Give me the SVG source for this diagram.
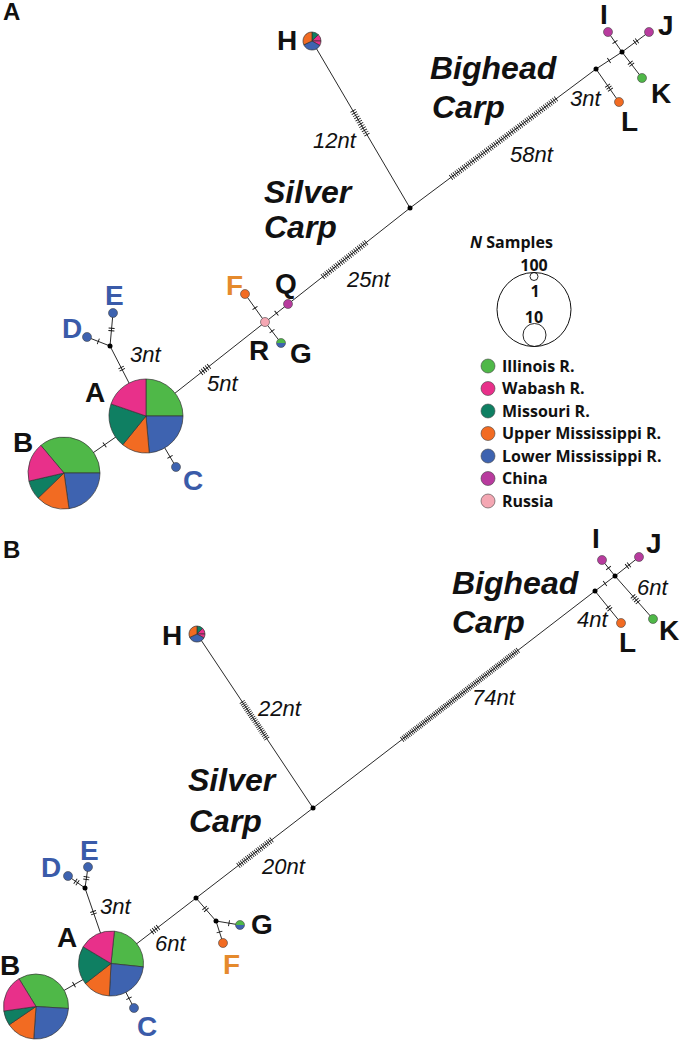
<svg xmlns="http://www.w3.org/2000/svg" width="682" height="1044" viewBox="0 0 682 1044">
<style>
.e{stroke:#111;stroke-width:0.9;fill:none}
.tk{stroke:#111;stroke-width:6;fill:none;stroke-dasharray:0.9 1.6}
.nd{stroke:#444;stroke-width:0.6}
.pie path{stroke:#333;stroke-width:0.7}
.jn{fill:#000}
.lb{font-family:"Liberation Sans",Arial,sans-serif;font-weight:700;font-size:28px;fill:#111}
.bl{fill:#3a5ba9}
.or{fill:#e58a2c}
.nt{font-family:"Liberation Sans",Arial,sans-serif;font-style:italic;font-size:22px;fill:#111}
.sp{font-family:"Liberation Sans",Arial,sans-serif;font-style:italic;font-weight:700;font-size:32px;fill:#111}
.pl{font-family:"Liberation Sans",Arial,sans-serif;font-weight:700;font-size:24px;fill:#111}
.lg{font-family:"Open Sans","Liberation Sans",sans-serif;font-weight:700;font-size:16px;fill:#111}
.lh{font-family:"Open Sans","Liberation Sans",sans-serif;font-weight:700;font-size:16px;fill:#111}
.gr{fill:#4fb848}.pk{fill:#e8308a}.tl{fill:#0f7f62}.og{fill:#f26b22}.bu{fill:#3e63b0}.cn{fill:#b83b9e}.ru{fill:#f4a7b3}
</style>
<rect width="682" height="1044" fill="#fff"/>
<text class="pl" x="3" y="20">A</text>
<text class="pl" x="3" y="558">B</text>

<g id="connectors">
<!-- panel A -->
<line class="e" x1="146" y1="416" x2="64" y2="473"/>
<line class="e" x1="146" y1="416" x2="176" y2="467"/>
<line class="e" x1="146" y1="416" x2="110" y2="346"/>
<line class="e" x1="110" y1="346" x2="87" y2="337"/>
<line class="e" x1="110" y1="346" x2="113" y2="313"/>
<line class="e" x1="146" y1="416" x2="410" y2="208"/>
<line class="e" x1="265" y1="322" x2="245" y2="294"/>
<line class="e" x1="265" y1="322" x2="281" y2="343"/>
<line class="e" x1="312" y1="41" x2="410" y2="208"/>
<line class="e" x1="410" y1="208" x2="596" y2="69"/>
<line class="e" x1="596" y1="69" x2="619" y2="102"/>
<line class="e" x1="596" y1="69" x2="622" y2="52"/>
<line class="e" x1="622" y1="52" x2="608" y2="32"/>
<line class="e" x1="622" y1="52" x2="649" y2="32"/>
<line class="e" x1="622" y1="52" x2="642" y2="78"/>
<!-- ticks A -->
<line class="tk" x1="104.97" y1="444.64" x2="104.23" y2="445.16"/>
<line class="tk" x1="169.77" y1="456.41" x2="170.23" y2="457.19"/>
<line class="tk" x1="122.48" y1="370.21" x2="120.92" y2="367.19"/>
<line class="tk" x1="98.72" y1="341.56" x2="97.88" y2="341.24"/>
<line class="tk" x1="111.35" y1="331.19" x2="111.65" y2="327.81"/>
<line class="tk" x1="200.72" y1="372.87" x2="209.28" y2="366.13"/>
<line class="tk" x1="255.26" y1="308.37" x2="254.74" y2="307.63"/>
<line class="tk" x1="271.73" y1="330.84" x2="272.27" y2="331.56"/>
<line class="tk" x1="276.15" y1="313.48" x2="276.85" y2="312.92"/>
<line class="tk" style="stroke-dasharray:0.8 1.5" x1="322.5" y1="276.93" x2="366.5" y2="242.27"/>
<line class="tk" style="stroke-dasharray:0.8 1.7" x1="352.84" y1="110.6" x2="367.16" y2="135"/>
<line class="tk" style="stroke-dasharray:0.8 1.5" x1="450.67" y1="177.61" x2="556.33" y2="98.65"/>
<line class="tk" x1="607.31" y1="85.23" x2="610.69" y2="90.07"/>
<line class="tk" x1="608.62" y1="60.75" x2="609.38" y2="60.25"/>
<line class="tk" x1="615.26" y1="42.37" x2="614.74" y2="41.63"/>
<line class="tk" x1="634.63" y1="42.61" x2="637.37" y2="40.59"/>
<line class="tk" x1="629.96" y1="62.35" x2="632.04" y2="65.05"/>
<!-- panel B -->
<line class="e" x1="111" y1="963.5" x2="36" y2="1006.5"/>
<line class="e" x1="111" y1="963.5" x2="134" y2="1008"/>
<line class="e" x1="111" y1="963.5" x2="85" y2="888"/>
<line class="e" x1="85" y1="888" x2="68" y2="876"/>
<line class="e" x1="85" y1="888" x2="88" y2="867"/>
<line class="e" x1="111" y1="963.5" x2="595" y2="591"/>
<line class="e" x1="196" y1="898" x2="216" y2="921"/>
<line class="e" x1="216" y1="921" x2="240" y2="925"/>
<line class="e" x1="216" y1="921" x2="223" y2="943"/>
<line class="e" x1="197" y1="634" x2="313" y2="808"/>
<line class="e" x1="595" y1="591" x2="615" y2="576"/>
<line class="e" x1="595" y1="591" x2="621" y2="623"/>
<line class="e" x1="615" y1="576" x2="602" y2="560"/>
<line class="e" x1="615" y1="576" x2="639" y2="557"/>
<line class="e" x1="615" y1="576" x2="653" y2="619"/>
<!-- ticks B -->
<line class="tk" x1="74.39" y1="984.48" x2="73.61" y2="984.92"/>
<line class="tk" x1="128.79" y1="997.9" x2="129.21" y2="998.7"/>
<line class="tk" x1="94.05" y1="914.31" x2="92.95" y2="911.09"/>
<line class="tk" x1="77.89" y1="882.98" x2="75.11" y2="881.02"/>
<line class="tk" x1="86.16" y1="879.88" x2="86.64" y2="876.52"/>
<line class="tk" x1="151.67" y1="932.16" x2="158.33" y2="927.04"/>
<line class="tk" x1="204.38" y1="907.62" x2="206.62" y2="910.18"/>
<line class="tk" x1="228.56" y1="923.13" x2="229.44" y2="923.27"/>
<line class="tk" x1="219.36" y1="931.57" x2="219.64" y2="932.43"/>
<line class="tk" style="stroke-dasharray:0.8 1.4" x1="238.12" y1="865.69" x2="271.88" y2="839.71"/>
<line class="tk" style="stroke-dasharray:0.8 1.3" x1="242.05" y1="701.57" x2="266.95" y2="738.93"/>
<line class="tk" style="stroke-dasharray:0.8 1.2" x1="401.83" y1="739.67" x2="518.17" y2="650.13"/>
<line class="tk" x1="607.93" y1="606.88" x2="610.07" y2="609.52"/>
<line class="tk" x1="604.64" y1="583.77" x2="605.36" y2="583.23"/>
<line class="tk" x1="608.78" y1="568.35" x2="608.22" y2="567.65"/>
<line class="tk" x1="626.67" y1="566.76" x2="629.33" y2="564.64"/>
<line class="tk" x1="632.72" y1="596.05" x2="638.28" y2="602.35"/>
</g>

<!-- ===== Panel A nodes ===== -->
<g id="a-A" class="pie">
<path class="gr" d="M146,416 L146,379 A37,37 0 0 1 183,416 Z"/>
<path class="bu" d="M146,416 L183,416 A37,37 0 0 1 149.23,452.86 Z"/>
<path class="og" d="M146,416 L149.23,452.86 A37,37 0 0 1 122.72,444.75 Z"/>
<path class="tl" d="M146,416 L122.72,444.75 A37,37 0 0 1 111.02,403.95 Z"/>
<path class="pk" d="M146,416 L111.02,403.95 A37,37 0 0 1 146,379 Z"/>
<text class="lb" x="85" y="402">A</text>
</g>
<g id="a-B" class="pie">
<path class="gr" d="M64,473 L40.86,445.42 A36,36 0 0 1 100,473 Z"/>
<path class="bu" d="M64,473 L100,473 A36,36 0 0 1 69.01,508.65 Z"/>
<path class="og" d="M64,473 L69.01,508.65 A36,36 0 0 1 38.1,498.01 Z"/>
<path class="tl" d="M64,473 L38.1,498.01 A36,36 0 0 1 28.92,481.1 Z"/>
<path class="pk" d="M64,473 L28.92,481.1 A36,36 0 0 1 40.86,445.42 Z"/>
<text class="lb" x="13" y="452">B</text>
</g>
<g id="a-C"><circle class="nd bu" cx="176" cy="467" r="4.5"/><text class="lb bl" x="183" y="490">C</text></g>
<g id="a-D"><circle class="nd bu" cx="87" cy="337" r="4.5"/><text class="lb bl" x="62" y="338">D</text></g>
<g id="a-E"><circle class="nd bu" cx="113" cy="313" r="4.5"/><text class="lb bl" x="105" y="305">E</text></g>
<g id="a-jde"><circle class="jn" cx="110" cy="346" r="2.5"/></g>
<g id="a-R"><circle class="nd ru" cx="265" cy="322" r="4.5"/><text class="lb" x="249" y="360">R</text></g>
<g id="a-F"><circle class="nd og" cx="245" cy="294" r="4.5"/><text class="lb or" x="226" y="295">F</text></g>
<g id="a-Q"><circle class="nd cn" cx="288" cy="304" r="4.5"/><text class="lb" x="275" y="293">Q</text></g>
<g id="a-G"><path class="gr" d="M276.5,343 A4.5,4.5 0 0 1 285.5,343 Z"/><path class="bu" d="M285.5,343 A4.5,4.5 0 0 1 276.5,343 Z"/><circle cx="281" cy="343" r="4.5" fill="none" stroke="#444" stroke-width="0.6"/><text class="lb" x="290" y="363">G</text></g>
<g id="a-H" class="pie">
<path class="tl" d="M312,41 L312,32 A9,9 0 0 1 318.36,34.64 Z"/>
<path class="pk" d="M312,41 L318.36,34.64 A9,9 0 0 1 321,41 Z"/>
<path class="pk" d="M312,41 L321,41 A9,9 0 0 1 319.79,45.5 Z"/>
<path class="bu" d="M312,41 L319.79,45.5 A9,9 0 0 1 303.84,44.8 Z"/>
<path class="og" d="M312,41 L303.84,44.8 A9,9 0 0 1 312,32 Z"/>
<text class="lb" x="277" y="50">H</text>
</g>
<g id="a-j1"><circle class="jn" cx="410" cy="208" r="2.5"/></g>
<g id="a-j2"><circle class="jn" cx="596" cy="69" r="2.5"/></g>
<g id="a-j3"><circle class="jn" cx="622" cy="52" r="2.5"/></g>
<g id="a-I"><circle class="nd cn" cx="608" cy="32" r="4.5"/><text class="lb" x="600" y="24">I</text></g>
<g id="a-J"><circle class="nd cn" cx="649" cy="32" r="4.5"/><text class="lb" x="658" y="35">J</text></g>
<g id="a-K"><circle class="nd gr" cx="642" cy="78" r="4.5"/><text class="lb" x="651" y="103">K</text></g>
<g id="a-L"><circle class="nd og" cx="619" cy="102" r="4.5"/><text class="lb" x="621" y="131">L</text></g>
<g id="a-labels">
<text class="nt" x="130" y="362">3nt</text>
<text class="nt" x="207" y="391">5nt</text>
<text class="nt" x="347" y="287">25nt</text>
<text class="nt" x="313" y="148">12nt</text>
<text class="nt" x="510" y="162">58nt</text>
<text class="nt" x="570" y="106">3nt</text>
<text class="sp" x="264" y="203">Silver</text>
<text class="sp" x="264" y="238">Carp</text>
<text class="sp" x="430" y="79">Bighead</text>
<text class="sp" x="432" y="118">Carp</text>
</g>

<!-- ===== Legend ===== -->
<g id="legend">
<text class="lh" x="470" y="248"><tspan font-style="italic">N</tspan> Samples</text>
<circle cx="534" cy="309.5" r="37" fill="none" stroke="#111" stroke-width="1"/>
<circle cx="534" cy="276.5" r="4" fill="none" stroke="#111" stroke-width="0.9"/>
<circle cx="534.5" cy="335" r="11.5" fill="none" stroke="#111" stroke-width="0.9"/>
<text class="lh" x="534" y="271" text-anchor="middle">100</text>
<text class="lh" x="535" y="297" text-anchor="middle">1</text>
<text class="lh" x="534" y="323" text-anchor="middle">10</text>
<circle class="nd gr" cx="488" cy="366" r="7"/><text class="lg" x="502" y="371.5">Illinois R.</text>
<circle class="nd pk" cx="488" cy="388.5" r="7"/><text class="lg" x="502" y="394">Wabash R.</text>
<circle class="nd tl" cx="488" cy="411" r="7"/><text class="lg" x="502" y="416.5">Missouri R.</text>
<circle class="nd og" cx="488" cy="433.5" r="7"/><text class="lg" x="502" y="439">Upper Mississippi R.</text>
<circle class="nd bu" cx="488" cy="456" r="7"/><text class="lg" x="502" y="461.5">Lower Mississippi R.</text>
<circle class="nd cn" cx="488" cy="478.5" r="7"/><text class="lg" x="502" y="484">China</text>
<circle class="nd ru" cx="488" cy="501" r="7"/><text class="lg" x="502" y="506.5">Russia</text>
</g>

<!-- ===== Panel B nodes ===== -->
<g id="b-A" class="pie">
<path class="gr" d="M111,963.5 L114.4,931.18 A32.5,32.5 0 0 1 143.32,966.9 Z"/>
<path class="bu" d="M111,963.5 L143.32,966.9 A32.5,32.5 0 0 1 109.3,995.95 Z"/>
<path class="og" d="M111,963.5 L109.3,995.95 A32.5,32.5 0 0 1 85.39,983.51 Z"/>
<path class="tl" d="M111,963.5 L85.39,983.51 A32.5,32.5 0 0 1 83.14,946.76 Z"/>
<path class="pk" d="M111,963.5 L83.14,946.76 A32.5,32.5 0 0 1 114.4,931.18 Z"/>
<text class="lb" x="57" y="947">A</text>
</g>
<g id="b-B" class="pie">
<path class="gr" d="M36,1006.5 L19.02,978.79 A32.5,32.5 0 0 1 68.44,1008.48 Z"/>
<path class="bu" d="M36,1006.5 L68.44,1008.48 A32.5,32.5 0 0 1 33.73,1038.92 Z"/>
<path class="og" d="M36,1006.5 L33.73,1038.92 A32.5,32.5 0 0 1 9.15,1024.81 Z"/>
<path class="tl" d="M36,1006.5 L9.15,1024.81 A32.5,32.5 0 0 1 3.82,1011.02 Z"/>
<path class="pk" d="M36,1006.5 L3.82,1011.02 A32.5,32.5 0 0 1 19.02,978.79 Z"/>
<text class="lb" x="0" y="975">B</text>
</g>
<g id="b-C"><circle class="nd bu" cx="134" cy="1008" r="4.5"/><text class="lb bl" x="137" y="1036">C</text></g>
<g id="b-D"><circle class="nd bu" cx="68" cy="876" r="4.5"/><text class="lb bl" x="41" y="877">D</text></g>
<g id="b-E"><circle class="nd bu" cx="88" cy="867" r="4.5"/><text class="lb bl" x="80" y="860">E</text></g>
<g id="b-jde"><circle class="jn" cx="85" cy="888" r="2.5"/></g>
<g id="b-j1"><circle class="jn" cx="196" cy="898" r="2.5"/></g>
<g id="b-j2"><circle class="jn" cx="216" cy="921" r="2.5"/></g>
<g id="b-G"><path class="gr" d="M235.5,925 A4.5,4.5 0 0 1 244.5,925 Z"/><path class="bu" d="M244.5,925 A4.5,4.5 0 0 1 235.5,925 Z"/><circle cx="240" cy="925" r="4.5" fill="none" stroke="#444" stroke-width="0.6"/><text class="lb" x="251" y="934">G</text></g>
<g id="b-F"><circle class="nd og" cx="223" cy="943" r="4.5"/><text class="lb or" x="223" y="974">F</text></g>
<g id="b-j3"><circle class="jn" cx="313" cy="808" r="2.5"/></g>
<g id="b-H" class="pie">
<path class="tl" d="M197,634 L197,626 A8,8 0 0 1 202.66,628.34 Z"/>
<path class="pk" d="M197,634 L202.66,628.34 A8,8 0 0 1 205,634 Z"/>
<path class="pk" d="M197,634 L205,634 A8,8 0 0 1 203.93,638 Z"/>
<path class="bu" d="M197,634 L203.93,638 A8,8 0 0 1 189.75,637.38 Z"/>
<path class="og" d="M197,634 L189.75,637.38 A8,8 0 0 1 197,626 Z"/>
<text class="lb" x="162" y="645">H</text>
</g>
<g id="b-j4"><circle class="jn" cx="595" cy="591" r="2.5"/></g>
<g id="b-j5"><circle class="jn" cx="615" cy="576" r="2.5"/></g>
<g id="b-I"><circle class="nd cn" cx="602" cy="560" r="4.5"/><text class="lb" x="592" y="548">I</text></g>
<g id="b-J"><circle class="nd cn" cx="639" cy="557" r="4.5"/><text class="lb" x="646" y="553">J</text></g>
<g id="b-K"><circle class="nd gr" cx="653" cy="619" r="4.5"/><text class="lb" x="659" y="640">K</text></g>
<g id="b-L"><circle class="nd og" cx="621" cy="623" r="4.5"/><text class="lb" x="619" y="652">L</text></g>
<g id="b-labels">
<text class="nt" x="100" y="914">3nt</text>
<text class="nt" x="155" y="951">6nt</text>
<text class="nt" x="262" y="874">20nt</text>
<text class="nt" x="258" y="716">22nt</text>
<text class="nt" x="472" y="705">74nt</text>
<text class="nt" x="577" y="627">4nt</text>
<text class="nt" x="637" y="595">6nt</text>
<text class="sp" x="188" y="791">Silver</text>
<text class="sp" x="189" y="832">Carp</text>
<text class="sp" x="452" y="594">Bighead</text>
<text class="sp" x="452" y="633">Carp</text>
</g>
</svg>
